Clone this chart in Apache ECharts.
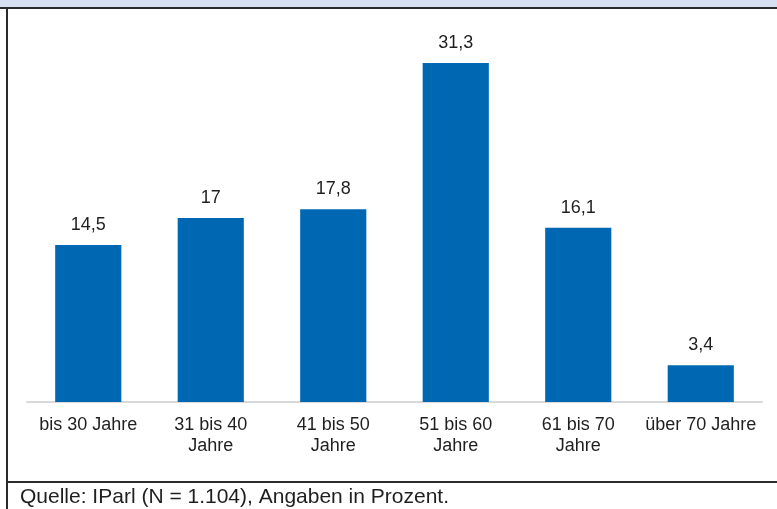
<!DOCTYPE html>
<html>
<head>
<meta charset="utf-8">
<script src="https://cdn.jsdelivr.net/npm/echarts@6/dist/echarts.min.js"></script>
<style>
  html, body { margin: 0; padding: 0; background: #ffffff; }
  #chart { width: 777px; height: 509px; }
</style>
</head>
<body>
<div id="chart"></div>
<script>
// Altersgruppen und Anteile (in Prozent)
const categories = ['bis 30 Jahre', '31 bis 40\nJahre', '41 bis 50\nJahre', '51 bis 60\nJahre', '61 bis 70\nJahre', 'über 70 Jahre'];
const values = [14.5, 17, 17.8, 31.3, 16.1, 3.4];
const sourceNote = 'Quelle: IParl (N = 1.104), Angaben in Prozent.';

const FONT = '"Liberation Sans", Arial, Helvetica, sans-serif';
const chart = echarts.init(document.getElementById('chart'), null, { renderer: 'canvas' });

chart.setOption({
  backgroundColor: '#ffffff',
  animation: false,
  grid: { left: 27, right: 15, top: 23, bottom: 107 },
  xAxis: {
    type: 'category',
    data: categories,
    axisLine: { show: true, lineStyle: { color: '#d9d9d9', width: 2 } },
    axisTick: { show: false },
    axisLabel: {
      color: '#1f1f1f',
      fontFamily: FONT,
      fontSize: 18,
      lineHeight: 21,
      margin: 13,
      interval: 0
    }
  },
  yAxis: {
    type: 'value',
    min: 0,
    max: 35,
    show: false,
    splitLine: { show: false }
  },
  series: [{
    type: 'bar',
    data: values,
    barWidth: '54%',
    itemStyle: { color: '#0068b3' },
    label: {
      show: true,
      position: 'top',
      distance: 11,
      color: '#1f1f1f',
      fontFamily: FONT,
      fontSize: 18,
      formatter: p => String(p.value).replace('.', ',')
    }
  }],
  graphic: [
    // Kopfband
    { type: 'rect', shape: { x: 0, y: 0, width: 777, height: 7 }, style: { fill: '#d6e0f1' }, z: 10 },
    { type: 'line', shape: { x1: 0, y1: 8, x2: 777, y2: 8 }, style: { stroke: '#2b2b2b', lineWidth: 2 }, z: 10 },
    // linker Rahmen
    { type: 'line', shape: { x1: 7, y1: 7, x2: 7, y2: 509 }, style: { stroke: '#2b2b2b', lineWidth: 2 }, z: 10 },
    // Trennlinie zur Quellenangabe
    { type: 'line', shape: { x1: 7, y1: 482, x2: 777, y2: 482 }, style: { stroke: '#2b2b2b', lineWidth: 2 }, z: 10 },
    {
      type: 'text', left: 20, top: 487, z: 10,
      style: { text: sourceNote, fill: '#1f1f1f', font: '21px ' + FONT }
    }
  ]
});
</script>
</body>
</html>
